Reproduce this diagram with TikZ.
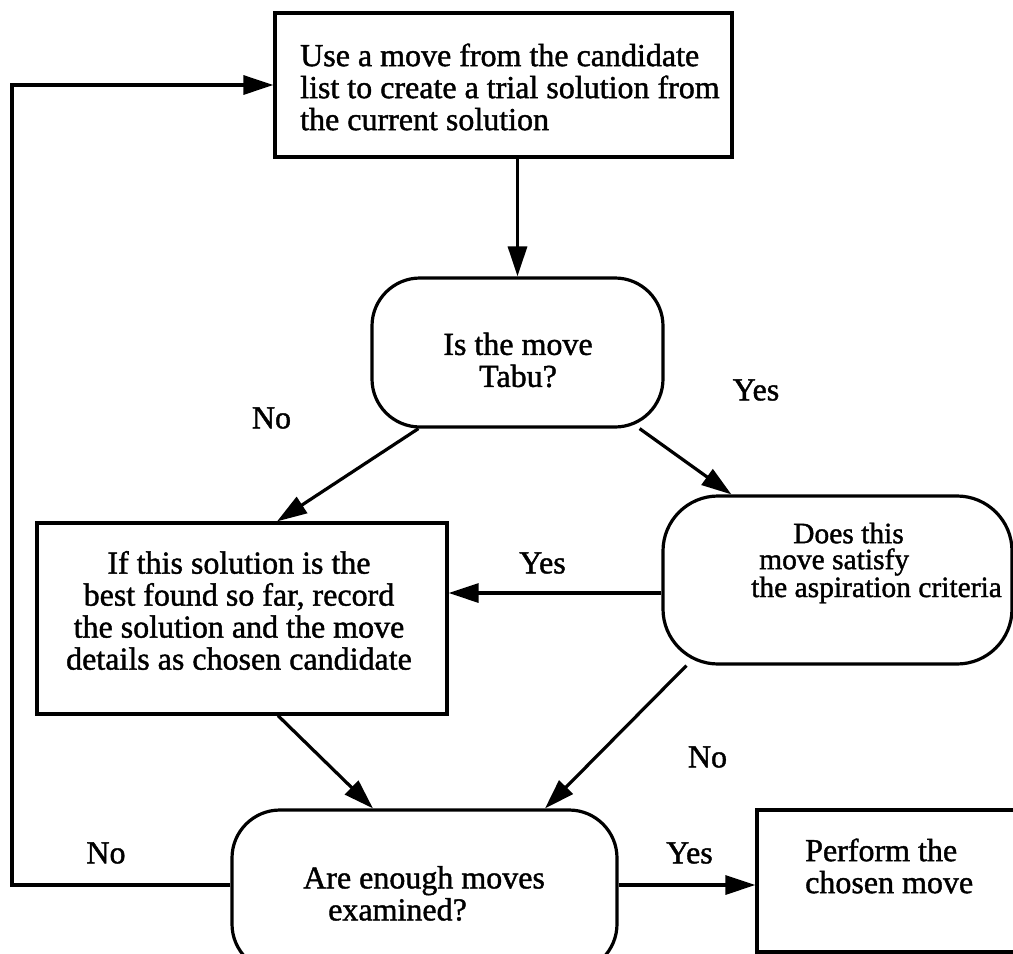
\documentclass[tikz,border=0pt]{standalone}
\usepackage{fontspec}
\setmainfont{Liberation Serif}[BoldFont=Liberation Serif, BoldFeatures={FakeBold=1.3}]
\usetikzlibrary{arrows.meta}
\begin{document}
\begin{tikzpicture}[x=1pt,y=-1pt,
  boxr/.style={draw, line width=3.2pt, rectangle, inner sep=0pt},
  boxround/.style={draw, line width=3.2pt, rounded corners=48pt, inner sep=0pt},
  txt/.style={font=\fontsize{32}{32}\selectfont\bfseries, inner sep=0pt, align=center},
  lab/.style={font=\fontsize{32}{32}\selectfont\bfseries, inner sep=0pt},
  arr/.style={-{Triangle[length=30pt,width=19pt]}, line width=3.2pt}]
\clip (0,0) rectangle (1013,954);

% boxes
\node[boxr, minimum width=457pt, minimum height=144pt] (top) at (503.5,85) {};
\node[txt, align=left, anchor=west] (topt) at (300,87) {Use a move from the candidate\\list to create a trial solution from\\the current solution};

\node[boxround, minimum width=291pt, minimum height=149pt] (tabu) at (517.5,352.5) {};
\node[txt] (tabut) at (518,360) {Is the move\\Tabu?};

\node[boxr, minimum width=410pt, minimum height=191pt] (best) at (242,618.5) {};
\node[txt] (bestt) at (239,610.5) {If this solution is the\\best found so far, record\\the solution and the move\\details as chosen candidate};

\node[boxround, rounded corners=55pt, minimum width=349pt, minimum height=168pt] (asp) at (837.5,580) {};
\node[txt, font=\fontsize{29.5}{26}\selectfont\bfseries, align=left, anchor=west] (aspt) at (751,563) {\hspace*{42pt}Does this\\\hspace*{8pt}move satisfy\\the aspiration criteria};

\node[boxround, minimum width=385pt, minimum height=162pt] (enough) at (424.5,891) {};
\node[txt, align=left, anchor=west] (enought) at (303,893.5) {Are enough moves\\\hspace*{25pt}examined?};

\node[boxr, minimum width=273pt, minimum height=142pt] (perform) at (893.5,881) {};
\node[txt, align=left, anchor=west] (performt) at (805,866) {Perform the\\chosen move};

% labels
\node[lab] (no1) at (271.5,418) {No};
\node[lab] (yes1) at (756,390) {Yes};
\node[lab] (yes2) at (542.5,563) {Yes};
\node[lab] (no2) at (707.5,757) {No};
\node[lab] (no3) at (106,853) {No};
\node[lab] (yes3) at (689.5,853) {Yes};

% connectors
\coordinate (lc1) at (12,885);
\coordinate (yy) at (0,885);
\draw[arr] (enough.west |- lc1) -- (lc1) -- (lc1 |- top.west) -- (top.west);
\draw[arr] (top.south -| tabu.north) -- (tabu.north);
\draw[arr] ([xshift=48pt]tabu.south west) -- ([xshift=35pt]best.north);
\draw[arr] ([xshift=-25pt]tabu.south east) -- ([xshift=70pt]asp.north west);
\draw[arr] ([yshift=-13pt]asp.west) -- ([yshift=-13pt]asp.west -| best.east);
\draw[arr] ([xshift=36pt]best.south) -- ([xshift=-51.5pt]enough.north);
\draw[arr] ([xshift=25pt]asp.south west) -- ([xshift=120.5pt]enough.north);
\draw[arr] (enough.east |- yy) -- (perform.west |- yy);
\end{tikzpicture}
\end{document}
